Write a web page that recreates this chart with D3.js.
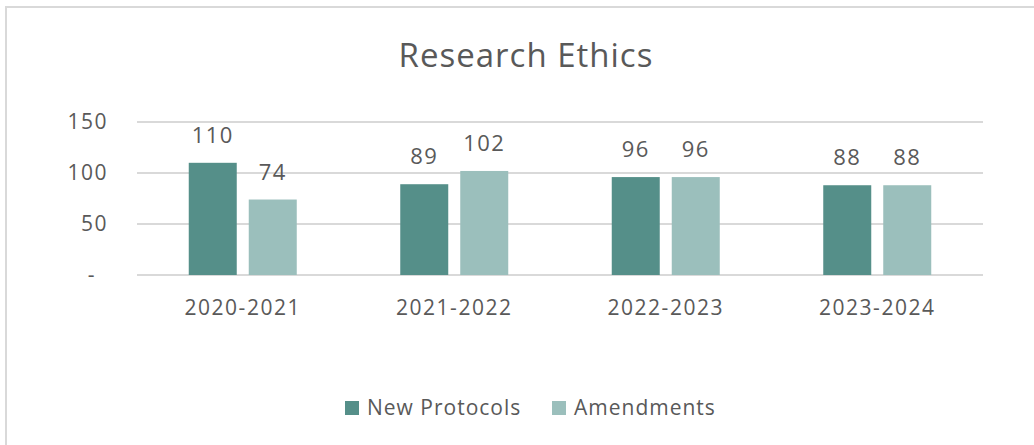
<!DOCTYPE html>
<html>
<head>
<meta charset="utf-8">
<script src="https://cdn.jsdelivr.net/npm/d3@7"></script>
<style>
  body { margin: 0; background: #fff; }
  text { font-family: "Open Sans", "Noto Sans", sans-serif; fill: #595959; }
</style>
</head>
<body>
<div id="chart"></div>
<script>
const categories = ["2020-2021", "2021-2022", "2022-2023", "2023-2024"];
const seriesNames = ["New Protocols", "Amendments"];
const newProtocols = [110, 89, 96, 88];
const amendments = [74, 102, 96, 88];
const yTicks = [0, 50, 100, 150];

const colors = ["#558F89", "#9BBFBC"];

const w = 1034,
      h = 445;

const plot = {left: 137, right: 983, top: 122, bottom: 275};

const svg = d3.select("#chart")
  .append("svg")
  .attr("width", w)
  .attr("height", h);

// chart frame (only top and left edges show in the crop)
svg.append("rect")
  .attr("x", 6)
  .attr("y", 7)
  .attr("width", w + 20)
  .attr("height", h + 20)
  .attr("fill", "#fff")
  .attr("stroke", "#d9d9d9")
  .attr("stroke-width", 2);

svg.append("text")
  .attr("x", 526)
  .attr("y", 67)
  .attr("text-anchor", "middle")
  .style("font-size", "33px")
  .style("letter-spacing", "1px")
  .text("Research Ethics");

const x0 = d3.scaleBand()
  .domain(categories)
  .range([plot.left, plot.right]);

const y = d3.scaleLinear()
  .domain([0, 150])
  .range([plot.bottom, plot.top]);

// gridlines
svg.append("g")
  .selectAll("line")
  .data(yTicks)
  .enter()
  .append("line")
  .attr("x1", plot.left)
  .attr("x2", plot.right)
  .attr("y1", d => y(d))
  .attr("y2", d => y(d))
  .attr("stroke", "#d9d9d9")
  .attr("stroke-width", 2);

// y axis labels
const yAxis = d3.axisLeft(y)
  .tickValues(yTicks)
  .tickSize(0)
  .tickPadding(0)
  .tickFormat(d => d === 0 ? "-" : d);

const yAxisGroup = svg.append("g")
  .attr("transform", "translate(108,0)")
  .call(yAxis);
yAxisGroup.select(".domain").remove();
yAxisGroup.selectAll("text")
  .style("font-size", "21px")
  .style("letter-spacing", "1.5px")
  .attr("fill", "#595959")
  .attr("dy", "0.32em")
  .attr("font-family", null);
yAxisGroup.selectAll(".tick")
  .filter(d => d === 0)
  .select("text")
  .attr("x", -12);

// x axis labels
const xAxis = d3.axisBottom(x0).tickSize(0).tickPadding(0);
const xAxisGroup = svg.append("g")
  .attr("transform", "translate(0, 300)")
  .call(xAxis);
xAxisGroup.select(".domain").remove();
xAxisGroup.selectAll("text")
  .style("font-size", "21px")
  .style("letter-spacing", "1.5px")
  .attr("fill", "#595959")
  .attr("font-family", null);

const barW = 48,
      barGap = 12;

const rows = categories.map((c, i) => ({
  cat: c,
  values: [
    {series: seriesNames[0], value: newProtocols[i]},
    {series: seriesNames[1], value: amendments[i]}
  ]
}));

const groups = svg.append("g")
  .selectAll("g")
  .data(rows)
  .enter()
  .append("g")
  .attr("transform", d => "translate(" + x0(d.cat) + ",0)");

const bx = (s) => s === seriesNames[0]
  ? x0.bandwidth() / 2 - barGap / 2 - barW
  : x0.bandwidth() / 2 + barGap / 2;

groups.selectAll("rect")
  .data(d => d.values)
  .enter()
  .append("rect")
  .attr("x", d => bx(d.series))
  .attr("y", d => y(d.value))
  .attr("width", barW)
  .attr("height", d => y(0) - y(d.value))
  .attr("fill", (d, i) => colors[i]);

groups.selectAll("text")
  .data(d => d.values)
  .enter()
  .append("text")
  .attr("x", d => bx(d.series) + barW / 2)
  .attr("y", d => y(d.value) - 20)
  .attr("text-anchor", "middle")
  .style("font-size", "22px")
  .style("letter-spacing", "1.5px")
  .text(d => d.value);

// legend
const legendItems = [
  {name: seriesNames[0], x: 345, color: colors[0]},
  {name: seriesNames[1], x: 552, color: colors[1]}
];

const legend = svg.append("g")
  .selectAll("g")
  .data(legendItems)
  .enter()
  .append("g")
  .attr("transform", d => "translate(" + d.x + ",401)");

legend.append("rect")
  .attr("width", 14)
  .attr("height", 14)
  .attr("fill", d => d.color);

legend.append("text")
  .attr("x", 22)
  .attr("y", 7)
  .attr("dy", "0.35em")
  .style("font-size", "21px")
  .style("letter-spacing", "1px")
  .text(d => d.name);
</script>
</body>
</html>
